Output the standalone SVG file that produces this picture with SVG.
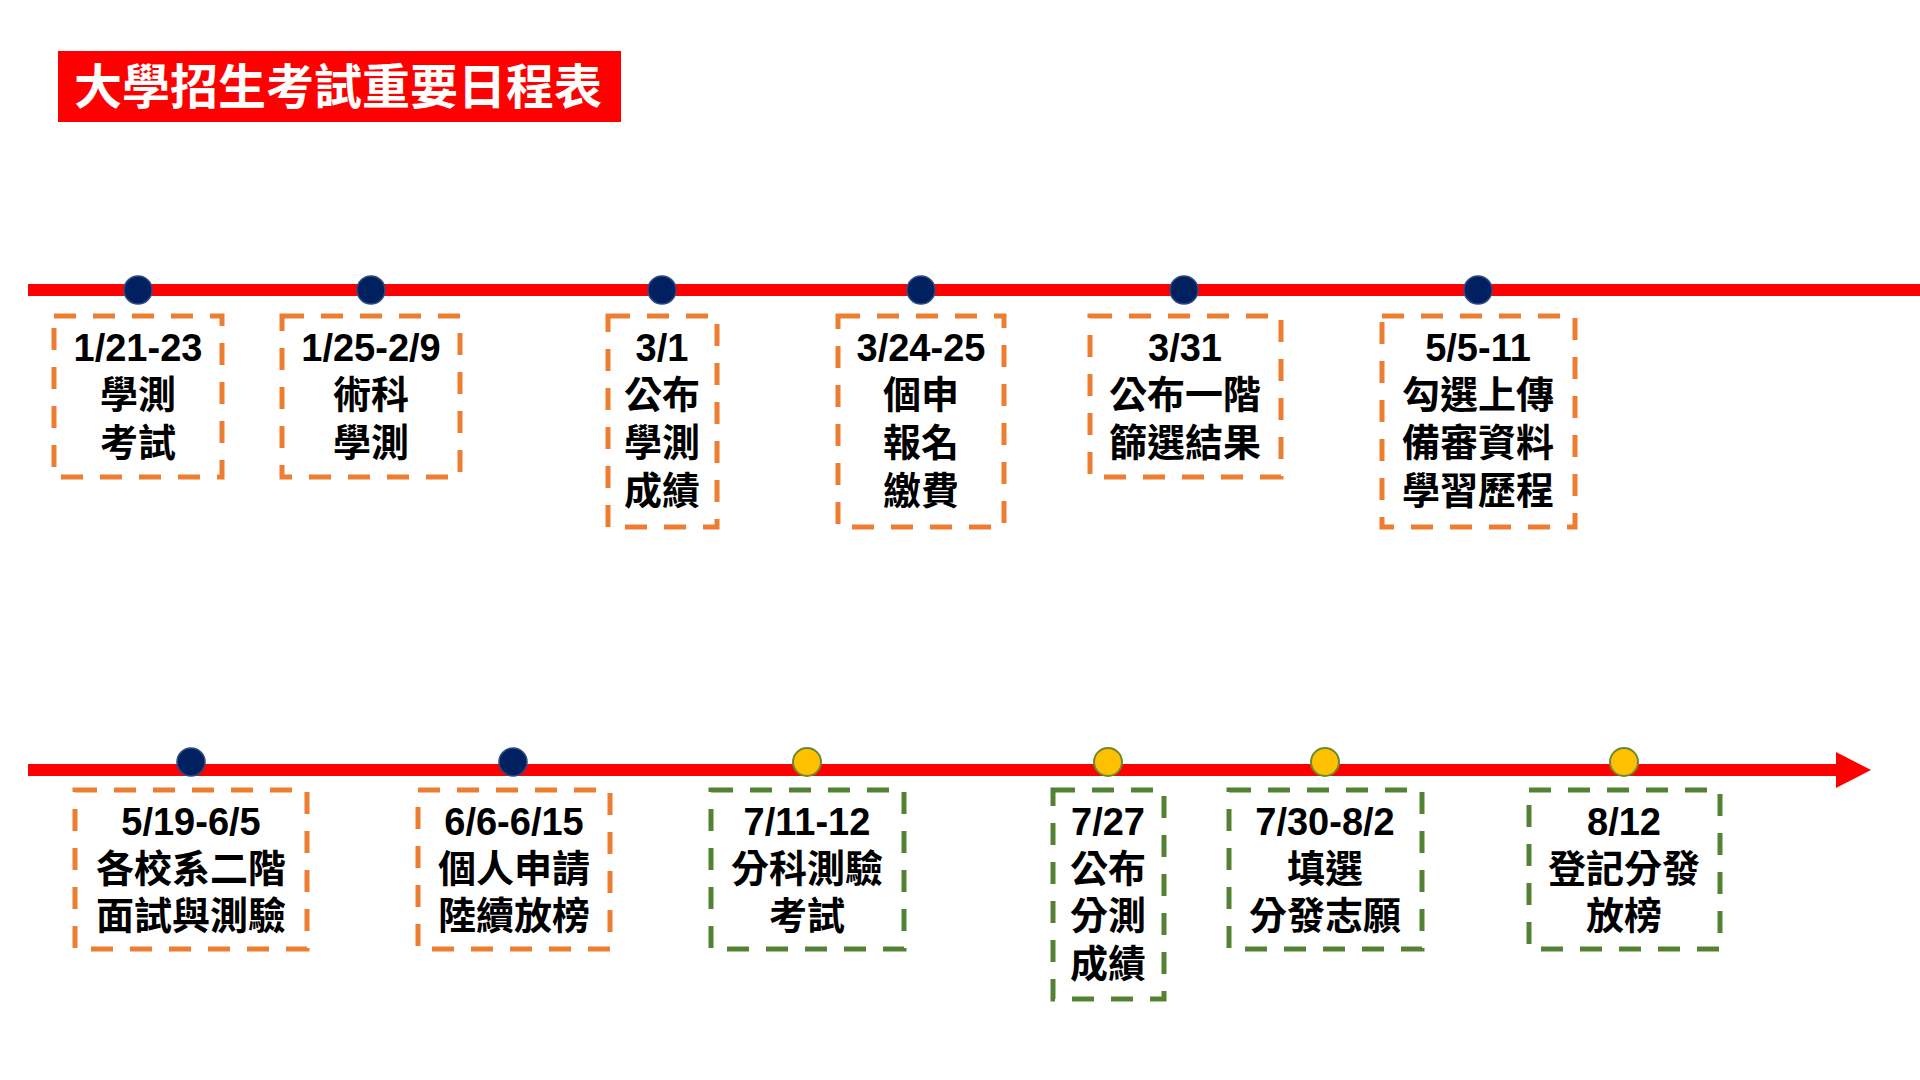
<svg xmlns="http://www.w3.org/2000/svg" width="1920" height="1080" viewBox="0 0 1920 1080">
<defs>
<style>
.bo{fill:#FFFFFF;stroke:#ED7D31;stroke-width:5;stroke-dasharray:22 17;}
.bg{fill:#FFFFFF;stroke:#548235;stroke-width:5;stroke-dasharray:22 17;}
.dn{fill:#002060;stroke:#2F4A80;stroke-width:1.5;}
.dy{fill:#FFC000;stroke:#6B8A2E;stroke-width:2;}
.t{font-family:"Liberation Sans","Noto Sans CJK TC",sans-serif;font-weight:bold;font-size:38px;fill:#000000;text-anchor:middle;}
.tl{stroke:#FF0000;stroke-width:12;fill:none;}
</style>
</defs>
<rect width="1920" height="1080" fill="#FFFFFF"/>
<g id="title">
<rect x="58" y="51" width="563" height="71" fill="#FF0000"/>
<text x="338" y="104" font-family="'Noto Sans CJK TC',sans-serif" font-weight="bold" font-size="48" fill="#FFFFFF" text-anchor="middle">大學招生考試重要日程表</text>
</g>
<g id="connectors">
<line class="tl" x1="28" y1="290" x2="1920" y2="290"/>
<line class="tl" x1="28" y1="770" x2="1842" y2="770"/>
<polygon points="1836,752 1871,770 1836,788" fill="#FF0000"/>
</g>
<g id="node-1">
<circle class="dn" cx="138" cy="290" r="14"/>
<rect class="bo" x="54" y="316" width="168" height="161"/>
<text class="t" x="138"><tspan x="138" y="361">1/21-23</tspan><tspan x="138" y="408">學測</tspan><tspan x="138" y="456">考試</tspan></text>
</g>
<g id="node-2">
<circle class="dn" cx="371" cy="290" r="14"/>
<rect class="bo" x="282" y="316" width="178" height="161"/>
<text class="t" x="371"><tspan x="371" y="361">1/25-2/9</tspan><tspan x="371" y="408">術科</tspan><tspan x="371" y="456">學測</tspan></text>
</g>
<g id="node-3">
<circle class="dn" cx="662" cy="290" r="14"/>
<rect class="bo" x="608" y="316" width="109" height="211"/>
<text class="t" x="662"><tspan x="662" y="361">3/1</tspan><tspan x="662" y="408">公布</tspan><tspan x="662" y="456">學測</tspan><tspan x="662" y="504">成績</tspan></text>
</g>
<g id="node-4">
<circle class="dn" cx="921" cy="290" r="14"/>
<rect class="bo" x="838" y="316" width="166" height="211"/>
<text class="t" x="921"><tspan x="921" y="361">3/24-25</tspan><tspan x="921" y="408">個申</tspan><tspan x="921" y="456">報名</tspan><tspan x="921" y="504">繳費</tspan></text>
</g>
<g id="node-5">
<circle class="dn" cx="1184" cy="290" r="14"/>
<rect class="bo" x="1090" y="316" width="191" height="161"/>
<text class="t" x="1185"><tspan x="1185" y="361">3/31</tspan><tspan x="1185" y="408">公布一階</tspan><tspan x="1185" y="456">篩選結果</tspan></text>
</g>
<g id="node-6">
<circle class="dn" cx="1478" cy="290" r="14"/>
<rect class="bo" x="1382" y="316" width="193" height="211"/>
<text class="t" x="1478"><tspan x="1478" y="361">5/5-11</tspan><tspan x="1478" y="408">勾選上傳</tspan><tspan x="1478" y="456">備審資料</tspan><tspan x="1478" y="504">學習歷程</tspan></text>
</g>
<g id="node-7">
<circle class="dn" cx="191" cy="762" r="14"/>
<rect class="bo" x="75" y="790" width="232" height="159"/>
<text class="t" x="191"><tspan x="191" y="835">5/19-6/5</tspan><tspan x="191" y="882">各校系二階</tspan><tspan x="191" y="929">面試與測驗</tspan></text>
</g>
<g id="node-8">
<circle class="dn" cx="513" cy="762" r="14"/>
<rect class="bo" x="418" y="790" width="192" height="159"/>
<text class="t" x="514"><tspan x="514" y="835">6/6-6/15</tspan><tspan x="514" y="882">個人申請</tspan><tspan x="514" y="929">陸續放榜</tspan></text>
</g>
<g id="node-9">
<circle class="dy" cx="807" cy="762" r="14"/>
<rect class="bg" x="711" y="790" width="193" height="159"/>
<text class="t" x="807"><tspan x="807" y="835">7/11-12</tspan><tspan x="807" y="882">分科測驗</tspan><tspan x="807" y="929">考試</tspan></text>
</g>
<g id="node-10">
<circle class="dy" cx="1108" cy="762" r="14"/>
<rect class="bg" x="1053" y="790" width="111" height="209"/>
<text class="t" x="1108"><tspan x="1108" y="835">7/27</tspan><tspan x="1108" y="882">公布</tspan><tspan x="1108" y="929">分測</tspan><tspan x="1108" y="977">成績</tspan></text>
</g>
<g id="node-11">
<circle class="dy" cx="1325" cy="762" r="14"/>
<rect class="bg" x="1229" y="790" width="193" height="159"/>
<text class="t" x="1325"><tspan x="1325" y="835">7/30-8/2</tspan><tspan x="1325" y="882">填選</tspan><tspan x="1325" y="929">分發志願</tspan></text>
</g>
<g id="node-12">
<circle class="dy" cx="1624" cy="762" r="14"/>
<rect class="bg" x="1529" y="790" width="191" height="159"/>
<text class="t" x="1624"><tspan x="1624" y="835">8/12</tspan><tspan x="1624" y="882">登記分發</tspan><tspan x="1624" y="929">放榜</tspan></text>
</g>
</svg>
